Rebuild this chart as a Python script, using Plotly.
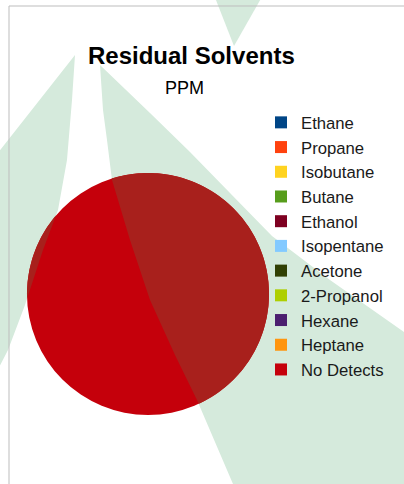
import numpy as np
import plotly.graph_objects as go

W, H = 404, 484

# ---- data ----
labels = ["Ethane", "Propane", "Isobutane", "Butane", "Ethanol", "Isopentane",
          "Acetone", "2-Propanol", "Hexane", "Heptane", "No Detects"]
values = [0, 0, 0, 0, 0, 0, 0, 0, 0, 0, 100]
colors = ["#004586", "#FF420E", "#FFD320", "#579D1C", "#7E0021", "#83CAFF",
          "#314004", "#AECF00", "#4B1F6F", "#FF950E", "#C5000B"]
title_text = "Residual Solvents"
subtitle_text = "PPM"

# ---- layout geometry (pixels) ----
CX, CY, R = 148, 294, 121
dom_x = [(CX - R) / W, (CX + R) / W]
dom_y = [1 - (CY + R) / H, 1 - (CY - R) / H]

GREEN = "#D5EADC"
DARK = "#A8201C"


def to_path(pts):
    s = "M " + " L ".join(f"{x / W:.5f},{1 - y / H:.5f}" for x, y in pts)
    return s + " Z"


def clip_poly(subject, clipper, center):
    def side(P, A, B):
        return (B[0] - A[0]) * (P[1] - A[1]) - (B[1] - A[1]) * (P[0] - A[0])

    def inter(S, E, A, B):
        x1, y1 = S; x2, y2 = E; x3, y3 = A; x4, y4 = B
        d = (x1 - x2) * (y3 - y4) - (y1 - y2) * (x3 - x4)
        t = ((x1 - x3) * (y3 - y4) - (y1 - y3) * (x3 - x4)) / d
        return (x1 + t * (x2 - x1), y1 + t * (y2 - y1))

    out = list(subject)
    n = len(clipper)
    for i in range(n):
        A, B = clipper[i - 1], clipper[i]
        sgn = np.sign(side(center, A, B))
        inside = lambda P: side(P, A, B) * sgn >= 0
        inp = out
        out = []
        if not inp:
            break
        S = inp[-1]
        for E in inp:
            if inside(E):
                if not inside(S):
                    out.append(inter(S, E, A, B))
                out.append(E)
            elif inside(S):
                out.append(inter(S, E, A, B))
            S = E
    return out


circle = [(CX + R * np.cos(t), CY + R * np.sin(t)) for t in np.linspace(0, 2 * np.pi, 240, endpoint=False)]

left_blade = [(75, 55), (72, 100), (67, 160), (58, 210), (43, 250), (25, 305), (8, 350),
              (-10, 385), (-10, 163)]
mid_blade = [(100, 65), (103, 110), (107, 140), (112, 180), (130, 240), (150, 300), (175, 355),
             (197, 400), (233, 484), (240, 500), (420, 500), (420, 343), (404, 332), (330, 280),
             (272, 236), (230, 193), (190, 152), (150, 113)]
top_wedge = [(214, -5), (263, -5), (234, 46)]

shapes = []
for poly in (left_blade, mid_blade, top_wedge):
    shapes.append(dict(type="path", xref="paper", yref="paper", path=to_path(poly),
                       fillcolor=GREEN, line=dict(width=0), layer="below"))
for poly in (left_blade, mid_blade):
    c = clip_poly(poly, circle, (CX, CY))
    if len(c) > 2:
        shapes.append(dict(type="path", xref="paper", yref="paper", path=to_path(c),
                           fillcolor=DARK, line=dict(width=0), layer="above"))
# frame lines
shapes.append(dict(type="line", xref="paper", yref="paper", x0=9 / W, x1=1.05, y0=1 - 6 / H, y1=1 - 6 / H,
                   line=dict(color="#BDBDBD", width=1), layer="above"))
shapes.append(dict(type="line", xref="paper", yref="paper", x0=9 / W, x1=9 / W, y0=1 - 6 / H, y1=-0.05,
                   line=dict(color="#BDBDBD", width=1), layer="above"))

fig = go.Figure(go.Pie(
    labels=labels, values=values, sort=False, direction="clockwise",
    marker=dict(colors=colors, line=dict(width=0)),
    textinfo="none", hoverinfo="label+value",
    domain=dict(x=dom_x, y=dom_y),
))

FONT = "Liberation Sans, Arial, sans-serif"
fig.update_layout(
    width=W, height=H,
    margin=dict(l=0, r=0, t=0, b=0),
    paper_bgcolor="white", plot_bgcolor="white",
    shapes=shapes,
    showlegend=True,
    legend=dict(x=261 / W, xanchor="left", y=1 - 105 / H, yanchor="top",
                bgcolor="rgba(0,0,0,0)", font=dict(family=FONT, size=16.7, color="#1A1A1A"),
                traceorder="normal"),
    annotations=[
        dict(text=f"<b>{title_text}</b>", x=191 / W, y=1 - 55 / H, xref="paper", yref="paper",
             showarrow=False, xanchor="center", yanchor="middle",
             font=dict(family=FONT, size=24, color="black")),
        dict(text=subtitle_text, x=184 / W, y=1 - 88 / H, xref="paper", yref="paper",
             showarrow=False, xanchor="center", yanchor="middle",
             font=dict(family=FONT, size=18, color="black")),
    ],
)

fig.write_html("out.html", config={"displayModeBar": False},
               post_script="document.body.style.margin='0';document.body.style.overflow='hidden';")
